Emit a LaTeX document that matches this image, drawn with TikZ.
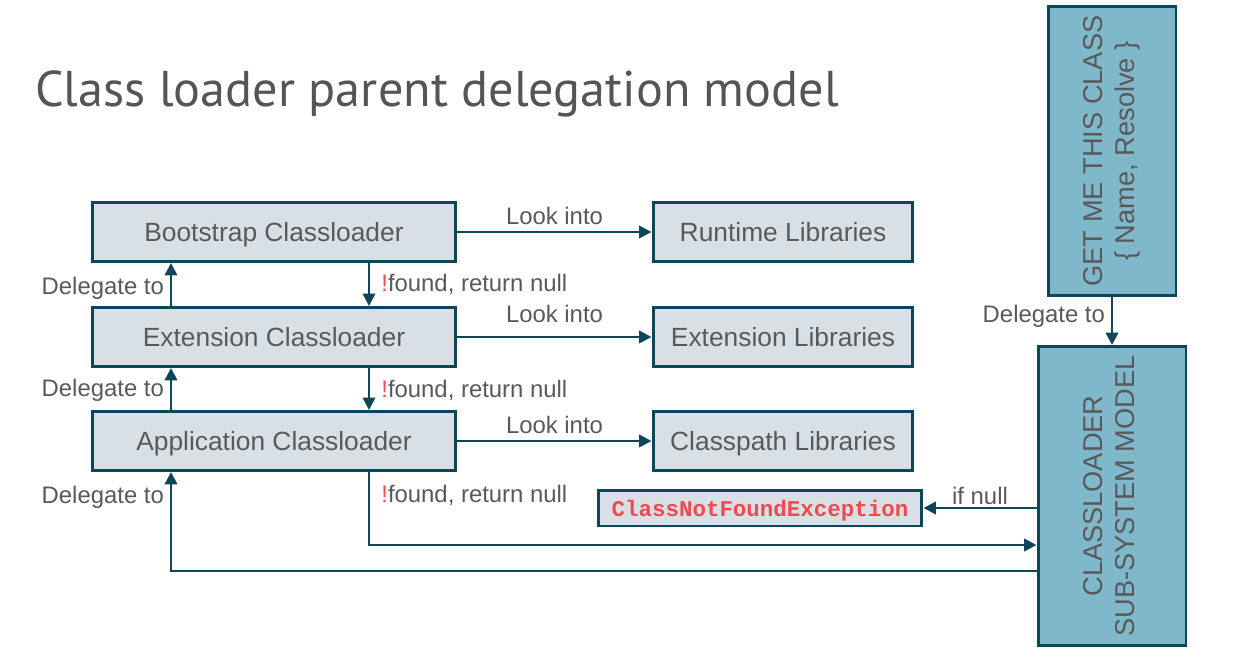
\documentclass[tikz,border=0pt]{standalone}
\usepackage{fontspec}
\usepackage{xcolor}
\usepackage{tikz}
\usetikzlibrary{arrows.meta, positioning, calc}
\setmainfont{Liberation Sans}
\newfontfamily\titlefont{PT Sans}
\newfontfamily\codefont{Liberation Mono}
\definecolor{cldark}{HTML}{0E4557}
\definecolor{clfill}{HTML}{D8E0E6}
\definecolor{clteal}{HTML}{80B8CB}
\definecolor{cltext}{HTML}{595959}
\definecolor{clred}{HTML}{EE4B50}

\begin{document}
\begin{tikzpicture}[x=0.02cm, y=-0.02cm,
    box/.style={draw=cldark, fill=clfill, line width=1.7pt, inner sep=0pt,
                minimum width=7.28cm, minimum height=1.18cm, text depth=0pt,
                font=\fontsize{15}{18}\selectfont, text=cltext},
    lib/.style={box, minimum width=5.2cm},
    side/.style={draw=cldark, fill=clteal, line width=1.7pt, inner sep=0pt,
                 font=\fontsize{15.5}{18.5}\selectfont, text=cltext},
    lbl/.style={font=\fontsize{13.6}{16}\selectfont, text=cltext},
    arr/.style={draw=cldark, line width=1.4pt, -{Triangle[length=7pt,width=7pt]}},
]
    \useasboundingbox (0,0) rectangle (1237,652);

    \node[anchor=base west, font=\titlefont\fontsize{28.6}{32}\selectfont, text=cltext!95!black]
        (title) at (29,107) {Class loader parent delegation model};

    % loaders and what they look into
    \node[box] (boot) at (274,232) {Bootstrap Classloader};
    \node[box] (ext) at (274,337) {Extension Classloader};
    \node[box] (app) at (274,441) {Application Classloader};

    \node[lib] (rtlib) at (783,232) {Runtime Libraries};
    \node[lib] (extlib) at (783,337) {Extension Libraries};
    \node[lib] (cplib) at (783,441) {Classpath Libraries};

    \node[box, minimum width=6.48cm, minimum height=0.72cm,
          font=\codefont\bfseries\fontsize{12.8}{15}\selectfont, text=clred]
        (cnf) at (760,508) {ClassNotFoundException};

    % sub-system on the right
    \node[side, minimum width=2.56cm, minimum height=5.8cm] (get) at (1112,151)
        {\rotatebox{90}{\begin{tabular}{@{}c@{}}GET ME THIS CLASS\\\{ Name, Resolve \}\end{tabular}}};
    \node[side, minimum width=2.96cm, minimum height=5.98cm] (cl) at (1112,496)
        {\rotatebox{90}{\begin{tabular}{@{}c@{}}CLASSLOADER\\SUB-SYSTEM MODEL\end{tabular}}};

    \coordinate (upx) at (171,0);
    \coordinate (dnx) at (369,0);
    \coordinate (nully) at (0,545);
    \coordinate (backy) at (0,571);

    \draw[arr] (boot) -- node[lbl, above] {Look into} (rtlib);
    \draw[arr] (ext) -- node[lbl, above, yshift=4pt] {Look into} (extlib);
    \draw[arr] (app) -- node[lbl, above] {Look into} (cplib);

    \draw[arr] (ext.north -| upx) -- node[lbl, left, pos=0.4] {Delegate to} (boot.south -| upx);
    \draw[arr] (app.north -| upx) -- node[lbl, left, pos=0.46] {Delegate to} (ext.south -| upx);
    \draw[arr] (boot.south -| dnx) -- node[lbl, right, xshift=3pt] {\textcolor{clred}{!}found, return null} (ext.north -| dnx);
    \draw[arr] (ext.south -| dnx) -- node[lbl, right, xshift=3pt, pos=0.54] {\textcolor{clred}{!}found, return null} (app.north -| dnx);

    \draw[arr] (app.south -| dnx) |- node[lbl, right, xshift=3pt, pos=0.16] {\textcolor{clred}{!}found, return null} (cl.west |- nully);
    \draw[arr] (cl.west |- backy) -| node[lbl, left, pos=0.87] {Delegate to} (app.south -| upx);
    \draw[arr] (cl.west |- cnf) -- node[lbl, above, yshift=-2pt] {if null} (cnf);
    \draw[arr] (get) -- node[lbl, left, pos=0.4] {Delegate to} (cl);
\end{tikzpicture}
\end{document}
